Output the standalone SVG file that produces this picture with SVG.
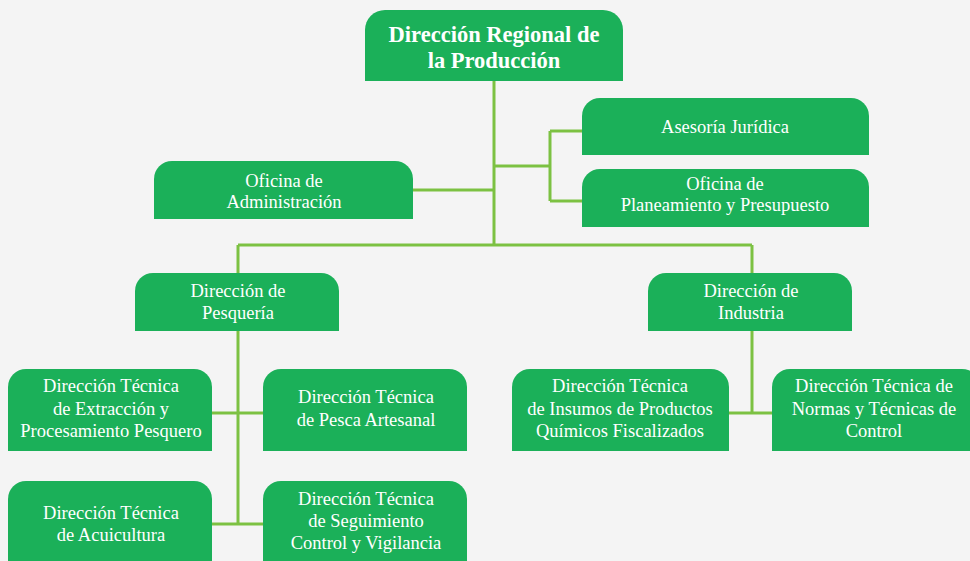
<svg xmlns="http://www.w3.org/2000/svg" width="970" height="561" viewBox="0 0 970 561">
<style>
.box{fill:#1bb059}
.t{font-family:"Liberation Serif","Times New Roman",serif;font-size:18.5px;fill:#ffffff;text-anchor:middle}
.tb{font-family:"Liberation Serif","Times New Roman",serif;font-size:22.5px;font-weight:bold;fill:#ffffff;text-anchor:middle}
.c{stroke:#7cc142;stroke-width:3;fill:none}
</style>
<rect width="970" height="561" fill="#f4f4f4"/>
<g id="connectors">
<path class="c" d="M494 81V245M413 190H494M494 166H550M550 131V201M550 131H582M550 201H582"/>
<path class="c" d="M238 245H752M238 245V331M752 245V273"/>
<path class="c" d="M238 331V524M212 413H263M212 524H263"/>
<path class="c" d="M752 331V413M729 413H772"/>
</g>
<g id="n-regional">
<path class="box" d="M365 81V30A20 20 0 0 1 385 10H603A20 20 0 0 1 623 30V81Z"/>
<text class="tb" x="494" y="42">Dirección Regional de</text>
<text class="tb" x="494" y="68">la Producción</text>
</g>
<g id="n-admin">
<path class="box" d="M154 219V179A18 18 0 0 1 172 161H395A18 18 0 0 1 413 179V219Z"/>
<text class="t" x="284" y="187">Oficina de</text>
<text class="t" x="284" y="208">Administración</text>
</g>
<g id="n-asesoria">
<path class="box" d="M582 155V116A18 18 0 0 1 600 98H851A18 18 0 0 1 869 116V155Z"/>
<text class="t" x="725" y="133">Asesoría Jurídica</text>
</g>
<g id="n-planeamiento">
<path class="box" d="M582 227V187A18 18 0 0 1 600 169H851A18 18 0 0 1 869 187V227Z"/>
<text class="t" x="725" y="190">Oficina de</text>
<text class="t" x="725" y="211">Planeamiento y Presupuesto</text>
</g>
<g id="n-pesqueria">
<path class="box" d="M135 331V291A18 18 0 0 1 153 273H321A18 18 0 0 1 339 291V331Z"/>
<text class="t" x="238" y="297">Dirección de</text>
<text class="t" x="238" y="319">Pesquería</text>
</g>
<g id="n-industria">
<path class="box" d="M648 331V291A18 18 0 0 1 666 273H834A18 18 0 0 1 852 291V331Z"/>
<text class="t" x="751" y="297">Dirección de</text>
<text class="t" x="751" y="319">Industria</text>
</g>
<g id="n-extraccion">
<path class="box" d="M8 451V387A18 18 0 0 1 26 369H194A18 18 0 0 1 212 387V451Z"/>
<text class="t" x="111" y="392">Dirección Técnica</text>
<text class="t" x="111" y="415">de Extracción y</text>
<text class="t" x="111" y="437">Procesamiento Pesquero</text>
</g>
<g id="n-pesca">
<path class="box" d="M263 451V387A18 18 0 0 1 281 369H449A18 18 0 0 1 467 387V451Z"/>
<text class="t" x="366" y="403">Dirección Técnica</text>
<text class="t" x="366" y="426">de Pesca Artesanal</text>
</g>
<g id="n-acuicultura">
<path class="box" d="M8 571V499A18 18 0 0 1 26 481H194A18 18 0 0 1 212 499V571Z"/>
<text class="t" x="111" y="519">Dirección Técnica</text>
<text class="t" x="111" y="541">de Acuicultura</text>
</g>
<g id="n-seguimiento">
<path class="box" d="M263 571V499A18 18 0 0 1 281 481H449A18 18 0 0 1 467 499V571Z"/>
<text class="t" x="366" y="505">Dirección Técnica</text>
<text class="t" x="366" y="527">de Seguimiento</text>
<text class="t" x="366" y="549">Control y Vigilancia</text>
</g>
<g id="n-insumos">
<path class="box" d="M512 451V387A18 18 0 0 1 530 369H711A18 18 0 0 1 729 387V451Z"/>
<text class="t" x="620" y="392">Dirección Técnica</text>
<text class="t" x="620" y="415">de Insumos de Productos</text>
<text class="t" x="620" y="437">Químicos Fiscalizados</text>
</g>
<g id="n-normas">
<path class="box" d="M772 451V387A18 18 0 0 1 790 369H962A18 18 0 0 1 980 387V451Z"/>
<text class="t" x="874" y="392">Dirección Técnica de</text>
<text class="t" x="874" y="415">Normas y Técnicas de</text>
<text class="t" x="874" y="437">Control</text>
</g>
</svg>
